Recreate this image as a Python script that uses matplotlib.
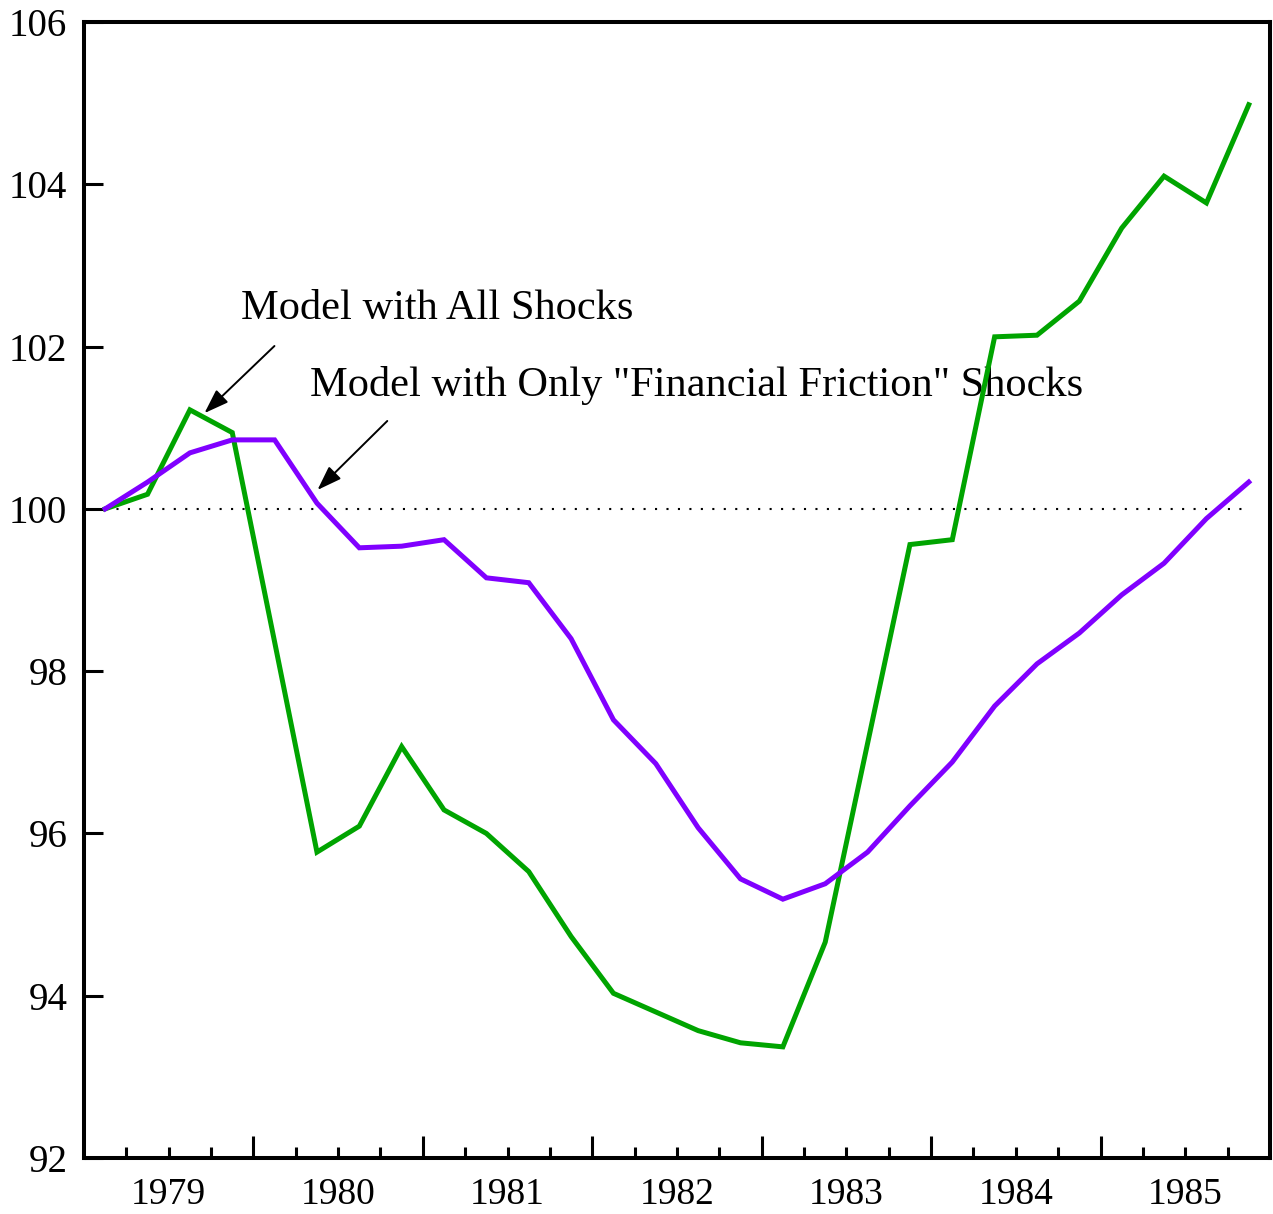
import matplotlib
matplotlib.use("Agg")
import matplotlib.pyplot as plt
import numpy as np

plt.rcParams['font.family'] = ['Liberation Serif', 'DejaVu Serif']

years = [1979, 1980, 1981, 1982, 1983, 1984, 1985]
quarters = [y + (q - 0.5) / 4 for y in years for q in range(1, 5)]

all_shocks = [100.0, 100.18, 101.22, 100.94,
              98.36, 95.77, 96.09, 97.07,
              96.29, 96.00, 95.53, 94.73,
              94.03, 93.80, 93.57, 93.42,
              93.37, 94.66, 97.11, 99.56,
              99.62, 102.12, 102.14, 102.56,
              103.46, 104.10, 103.77, 104.98]

ff_shocks = [100.0, 100.33, 100.69, 100.85,
             100.85, 100.07, 99.52, 99.54,
             99.62, 99.15, 99.09, 98.40,
             97.40, 96.86, 96.07, 95.44,
             95.19, 95.38, 95.77, 96.34,
             96.88, 97.57, 98.09, 98.47,
             98.94, 99.33, 99.88, 100.33]

yticks = [92, 94, 96, 98, 100, 102, 104, 106]

fig = plt.figure(figsize=(12.73, 12.14), dpi=100)
ax = fig.add_axes([0.066, 0.0461, 0.9316, 0.9358])

ax.plot([quarters[0], quarters[-1]], [100, 100], color='black', lw=1.5,
        linestyle=(0, (1, 4.5)), zorder=2)
ax.plot(quarters, all_shocks, color='#00A400', lw=3.6, zorder=3,
        solid_joinstyle='miter')
ax.plot(quarters, ff_shocks, color='#8000FF', lw=3.6, zorder=4,
        solid_joinstyle='miter')

ax.set_xlim(1979, 1986)
ax.set_ylim(92, 106)

for s in ax.spines.values():
    s.set_linewidth(2.9)

ax.set_yticks(yticks)
ax.set_yticklabels([str(v) for v in yticks])
ax.tick_params(axis='y', direction='in', length=14, width=2.2, pad=12,
               labelsize=28)

ax.set_xticks(years[1:])
ax.set_xticklabels([])
ax.set_xticks([y + q / 4 for y in years for q in (1, 2, 3)], minor=True)
ax.tick_params(axis='x', which='major', direction='in', length=16, width=2.2)
ax.tick_params(axis='x', which='minor', direction='in', length=8, width=2.2)

sec = ax.secondary_xaxis('bottom')
sec.set_xticks([y + 0.5 for y in years])
sec.set_xticklabels([str(y) for y in years])
sec.tick_params(length=0, pad=14, labelsize=27)
sec.spines['bottom'].set_visible(False)

ax.text(1979.929, 102.47, 'Model with All Shocks', fontsize=30.5,
        ha='left', va='center', zorder=1)
ax.text(1980.336, 101.52, 'Model with Only "Financial Friction" Shocks',
        fontsize=30.5, ha='left', va='center', zorder=1)

arrow_kw = dict(arrowstyle='-|>,head_length=1.0,head_width=0.35',
                color='black', lw=1.4, shrinkA=0, shrinkB=0,
                mutation_scale=15)
ax.annotate('', xy=(1979.711, 101.18), xytext=(1980.124, 102.007),
            arrowprops=arrow_kw)
ax.annotate('', xy=(1980.378, 100.233), xytext=(1980.79, 101.083),
            arrowprops=arrow_kw)

fig.savefig('out.png', dpi=100)
